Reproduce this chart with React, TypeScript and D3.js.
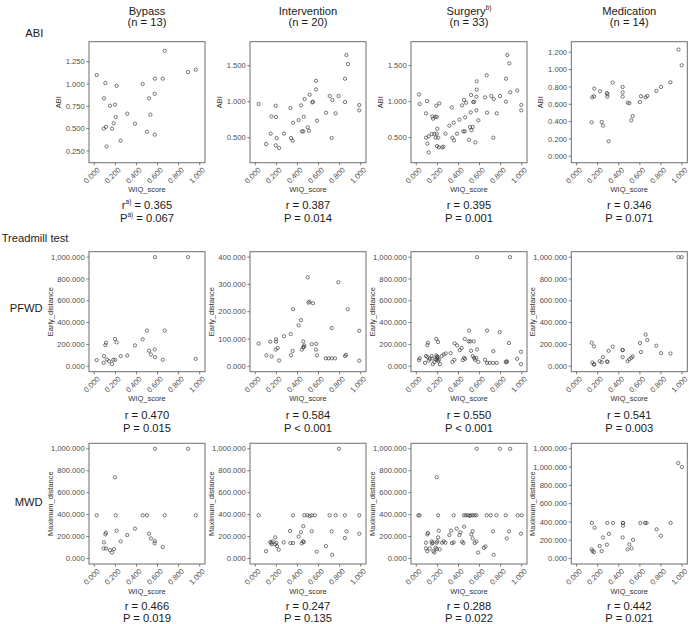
import React from "react";
import * as d3 from "d3";

const W = 689;
const H = 624;

// ---------- categories / labels ----------
const groups = ["Bypass", "Intervention", "Surgery", "Medication"];
const groupSup = ["", "", "b)", ""];
const groupN = ["(n = 13)", "(n = 20)", "(n = 33)", "(n = 14)"];
const rowLabels = ["ABI", "PFWD", "MWD"];
const yTitles = ["ABI", "Early_distance", "Maximum_distance"];
const xTitle = "WIQ_score";
const xTicks = [0, 0.2, 0.4, 0.6, 0.8, 1.0];
const rValues = [
  ["0.365", "0.387", "0.395", "0.346"],
  ["0.470", "0.584", "0.550", "0.541"],
  ["0.466", "0.247", "0.288", "0.442"],
];
const pValues = [
  ["= 0.067", "= 0.014", "= 0.001", "= 0.071"],
  ["= 0.015", "< 0.001", "< 0.001", "= 0.003"],
  ["= 0.019", "= 0.135", "= 0.022", "= 0.021"],
];

// ---------- y axis domains & ticks ----------
const yDomainABI = [
  [0.119, 1.474],
  [0.153, 1.833],
  [0.153, 1.833],
  [-0.074, 1.322],
];
const yTicksABI = [
  [0.25, 0.5, 0.75, 1.0, 1.25],
  [0.5, 1.0, 1.5],
  [0.5, 1.0, 1.5],
  [0, 0.2, 0.4, 0.6, 0.8, 1.0, 1.2],
];
const yDomainPFWD = [
  [-50, 1050],
  [-20, 420],
  [-50, 1050],
  [-50, 1050],
];
const yTicksPFWD = [
  [0, 200, 400, 600, 800, 1000],
  [0, 100, 200, 300, 400],
  [0, 200, 400, 600, 800, 1000],
  [0, 200, 400, 600, 800, 1000],
];
const yDomainMWD = [
  [-50, 1050],
  [-50, 1050],
  [-50, 1050],
  [-60, 1260],
];
const yTicksMWD = [
  [0, 200, 400, 600, 800, 1000],
  [0, 200, 400, 600, 800, 1000],
  [0, 200, 400, 600, 800, 1000],
  [0, 200, 400, 600, 800, 1000, 1200],
];
// the medication MWD axis prints its top tick as shown in the source
const medMWDTickLabels = ["0.000", "200.000", "400.000", "600.000", "800.000", "1,000.000", "1,000.000"];

// ---------- series: [WIQ_score, value] ----------
const bypassABI = [
  [0.023, 1.10], [0.105, 1.01], [0.212, 0.98], [0.092, 0.84], [0.149, 0.757], [0.197, 0.77],
  [0.203, 0.63], [0.184, 0.56], [0.168, 0.50], [0.089, 0.50], [0.111, 0.52], [0.117, 0.30],
  [0.25, 0.366], [0.313, 0.668], [0.386, 0.556], [0.459, 1.0], [0.519, 0.84], [0.573, 0.89],
  [0.5, 0.466], [0.532, 0.657], [0.573, 0.433], [0.576, 1.06], [0.668, 1.373], [0.649, 1.06],
  [0.89, 1.134], [0.962, 1.16],
];
const interventionABI = [
  [0.032, 0.968], [0.194, 0.944], [0.153, 0.796], [0.197, 0.787], [0.146, 0.556], [0.203, 0.495],
  [0.103, 0.412], [0.194, 0.394], [0.226, 0.356], [0.273, 0.556], [0.333, 0.912], [0.339, 0.495],
  [0.355, 0.458], [0.358, 0.708], [0.411, 0.745], [0.434, 0.949], [0.459, 0.792], [0.468, 1.037],
  [0.443, 0.588], [0.455, 0.588], [0.497, 0.643], [0.509, 0.597], [0.516, 1.097], [0.541, 0.99],
  [0.547, 1.0], [0.576, 1.29], [0.576, 1.171], [0.585, 0.736], [0.671, 0.847], [0.706, 1.079],
  [0.731, 1.023], [0.724, 0.495], [0.762, 0.838], [0.79, 1.079], [0.851, 0.995], [0.851, 1.319],
  [0.864, 1.648], [0.879, 1.523], [0.986, 0.954], [0.986, 0.88],
];
const surgeryABI = [
  [0.026, 1.10], [0.032, 0.968], [0.102, 1.009], [0.092, 0.838], [0.092, 0.5], [0.105, 0.417],
  [0.118, 0.296], [0.118, 0.519], [0.146, 0.551], [0.153, 0.796], [0.159, 0.764], [0.181, 0.79],
  [0.194, 0.787], [0.172, 0.551], [0.184, 0.5], [0.194, 0.556], [0.197, 0.384], [0.213, 0.366],
  [0.219, 0.977], [0.2, 0.625], [0.209, 0.5], [0.19, 0.944], [0.247, 0.366], [0.257, 0.375],
  [0.276, 0.556], [0.314, 0.667], [0.336, 0.921], [0.355, 0.708], [0.342, 0.5], [0.358, 0.463],
  [0.387, 0.556], [0.409, 0.75], [0.434, 0.949], [0.453, 1.023], [0.463, 0.782], [0.447, 0.588],
  [0.46, 0.588], [0.472, 0.986], [0.5, 0.472], [0.51, 0.648], [0.516, 0.852], [0.52, 1.093],
  [0.523, 0.602], [0.535, 0.648], [0.54, 0.995], [0.55, 1.0], [0.561, 0.435], [0.57, 0.88],
  [0.573, 1.282], [0.573, 1.167], [0.57, 1.069], [0.589, 0.741], [0.652, 1.06], [0.671, 0.847],
  [0.668, 1.366], [0.712, 1.079], [0.735, 1.037], [0.731, 0.5], [0.763, 0.838], [0.794, 1.079],
  [0.851, 1.0], [0.851, 1.319], [0.863, 1.648], [0.882, 1.532], [0.891, 1.13], [0.958, 1.157],
  [0.996, 0.954], [0.996, 0.88],
];
const medicationABI = [
  [0.143, 0.392], [0.149, 0.681], [0.165, 0.692], [0.168, 0.781], [0.222, 0.75], [0.238, 0.396],
  [0.25, 0.354], [0.288, 0.731], [0.294, 0.715], [0.291, 0.688], [0.304, 0.173], [0.342, 0.85],
  [0.437, 0.8], [0.437, 0.738], [0.437, 0.688], [0.484, 0.619], [0.5, 0.612], [0.519, 0.415],
  [0.532, 0.465], [0.601, 0.627], [0.611, 0.692], [0.655, 0.681], [0.671, 0.696], [0.756, 0.754],
  [0.801, 0.8], [0.89, 0.854], [0.966, 1.231], [0.997, 1.05],
];

const bypassPFWD = [
  [0.023, 56], [0.089, 31], [0.092, 93], [0.105, 194], [0.111, 216], [0.12, 62], [0.14, 46],
  [0.168, 19], [0.18, 59], [0.2, 59], [0.197, 250], [0.212, 219], [0.25, 93], [0.313, 99],
  [0.386, 191], [0.459, 247], [0.5, 327], [0.519, 142], [0.573, 154], [0.537, 108], [0.576, 83],
  [0.576, 1000], [0.668, 327], [0.649, 59], [0.89, 1000], [0.962, 68],
];
const interventionPFWD = [
  [0.032, 83], [0.105, 40], [0.155, 36], [0.143, 90], [0.197, 99], [0.197, 90], [0.194, 61],
  [0.213, 67], [0.226, 21], [0.273, 110], [0.336, 118], [0.339, 40], [0.355, 56], [0.358, 209],
  [0.411, 150], [0.433, 169], [0.44, 61], [0.455, 91], [0.46, 71], [0.465, 76], [0.455, 69],
  [0.497, 326], [0.506, 233], [0.513, 237], [0.547, 231], [0.535, 81], [0.579, 82], [0.576, 61],
  [0.585, 40], [0.668, 29], [0.697, 29], [0.724, 29], [0.756, 29], [0.724, 140], [0.787, 308],
  [0.851, 37], [0.86, 42], [0.876, 209], [0.986, 130], [0.986, 20],
];
const surgeryPFWD = [
  [0.026, 56], [0.032, 74], [0.083, 31], [0.092, 93], [0.105, 86], [0.105, 194], [0.111, 216],
  [0.118, 52], [0.127, 68], [0.149, 71], [0.146, 93], [0.156, 19], [0.172, 37], [0.184, 62],
  [0.194, 59], [0.197, 83], [0.19, 99], [0.2, 74], [0.209, 49], [0.2, 90], [0.215, 62],
  [0.19, 250], [0.207, 222], [0.225, 19], [0.241, 93], [0.26, 108], [0.279, 117], [0.326, 120],
  [0.342, 40], [0.361, 59], [0.364, 210], [0.387, 191], [0.412, 148], [0.431, 167], [0.44, 56],
  [0.453, 77], [0.463, 68], [0.46, 250], [0.5, 327], [0.497, 228], [0.513, 228], [0.545, 228],
  [0.52, 142], [0.535, 93], [0.548, 77], [0.557, 59], [0.57, 77], [0.576, 154], [0.576, 1000],
  [0.589, 40], [0.652, 59], [0.671, 327], [0.671, 31], [0.696, 31], [0.728, 31], [0.763, 31],
  [0.731, 139], [0.791, 312], [0.848, 37], [0.854, 43], [0.861, 43], [0.879, 213], [0.889, 1000],
  [0.956, 68], [0.993, 133], [0.993, 19],
];
const medicationPFWD = [
  [0.143, 216], [0.165, 182], [0.149, 34], [0.165, 15], [0.168, 20], [0.219, 46], [0.238, 37],
  [0.25, 83], [0.288, 43], [0.294, 40], [0.304, 142], [0.342, 179], [0.437, 148], [0.437, 83],
  [0.437, 148], [0.484, 46], [0.5, 62], [0.519, 77], [0.532, 90], [0.601, 213], [0.611, 130],
  [0.655, 290], [0.671, 241], [0.756, 188], [0.801, 120], [0.89, 117], [0.966, 1000], [0.997, 1000],
];

const bypassMWD = [
  [0.023, 394], [0.089, 92], [0.111, 92], [0.092, 147], [0.105, 220], [0.111, 235], [0.149, 76],
  [0.168, 55], [0.187, 86], [0.197, 740], [0.203, 394], [0.212, 254], [0.25, 156], [0.313, 214],
  [0.386, 272], [0.459, 394], [0.5, 394], [0.519, 226], [0.537, 183], [0.573, 159], [0.573, 138],
  [0.576, 1000], [0.668, 394], [0.649, 104], [0.89, 1000], [0.962, 394],
];
const interventionMWD = [
  [0.032, 394], [0.102, 67], [0.143, 150], [0.152, 144], [0.165, 156], [0.155, 130], [0.19, 193],
  [0.19, 128], [0.2, 144], [0.206, 113], [0.222, 80], [0.27, 147], [0.333, 141], [0.33, 251],
  [0.358, 394], [0.358, 141], [0.411, 199], [0.433, 239], [0.44, 138], [0.452, 156], [0.46, 150],
  [0.455, 294], [0.465, 394], [0.494, 394], [0.516, 388], [0.535, 394], [0.566, 394], [0.535, 248],
  [0.582, 61], [0.67, 113], [0.705, 394], [0.762, 394], [0.724, 248], [0.73, 34], [0.794, 1000],
  [0.85, 394], [0.866, 248], [0.85, 186], [0.986, 394], [0.986, 226],
];
const surgeryMWD = [
  [0.02, 394], [0.03, 394], [0.092, 144], [0.092, 92], [0.105, 220], [0.111, 232], [0.105, 67],
  [0.127, 92], [0.146, 156], [0.156, 144], [0.149, 135], [0.162, 67], [0.172, 55], [0.184, 98],
  [0.194, 86], [0.194, 144], [0.2, 156], [0.207, 193], [0.194, 740], [0.207, 394], [0.213, 254],
  [0.222, 83], [0.244, 144], [0.26, 156], [0.276, 144], [0.314, 214], [0.33, 254], [0.339, 141],
  [0.355, 147], [0.355, 394], [0.383, 272], [0.409, 214], [0.418, 239], [0.434, 153], [0.447, 141],
  [0.453, 290], [0.453, 394], [0.469, 394], [0.491, 394], [0.507, 388], [0.516, 394], [0.535, 394],
  [0.554, 394], [0.57, 394], [0.522, 220], [0.535, 248], [0.535, 183], [0.554, 141], [0.57, 156],
  [0.573, 1000], [0.586, 55], [0.64, 98], [0.656, 110], [0.668, 394], [0.706, 394], [0.76, 394],
  [0.728, 248], [0.734, 34], [0.792, 1000], [0.848, 394], [0.858, 183], [0.88, 248], [0.89, 1000],
  [0.962, 394], [1.0, 394], [0.993, 226],
];
const medicationMWD = [
  [0.146, 389], [0.171, 337], [0.143, 100], [0.152, 81], [0.165, 70], [0.219, 137], [0.238, 81],
  [0.25, 230], [0.292, 389], [0.288, 152], [0.307, 270], [0.345, 389], [0.44, 389], [0.44, 359],
  [0.44, 389], [0.437, 230], [0.484, 100], [0.5, 156], [0.535, 204], [0.522, 111], [0.605, 389],
  [0.65, 389], [0.664, 389], [0.759, 319], [0.8, 248], [0.892, 389], [0.964, 1044], [0.999, 1000],
];

const seriesABI = [bypassABI, interventionABI, surgeryABI, medicationABI];
const seriesPFWD = [bypassPFWD, interventionPFWD, surgeryPFWD, medicationPFWD];
const seriesMWD = [bypassMWD, interventionMWD, surgeryMWD, medicationMWD];

// ---------- layout ----------
const FONT = "'Liberation Sans', Arial, Helvetica, sans-serif";
const colLeft = [89, 250, 411, 571.3];
const panelW = 116;
const rowTop = [41.7, 251.7, 443.3];
const rowH = [121, 120, 120.7];
const yTitleOffset = [28.5, 36.5, 36.5];
const rOffset = [46.3, 46.8, 46.2];
const pOffset = [59.6, 60.3, 57.5];

const fmt = d3.format(",.3f");

type Pt = number[];

function Panel(props: {
  left: number; top: number; h: number; pts: Pt[]; yDomain: number[]; yTicks: number[];
  yLabels?: string[]; yTitle: string; titleOff: number;
}) {
  const { left, top, h, pts, yDomain, yTicks, yLabels, yTitle, titleOff } = props;
  const x = d3.scaleLinear().domain([-0.05, 1.05]).range([left, left + panelW]);
  const y = d3.scaleLinear().domain(yDomain).range([top + h, top]);
  const bottom = top + h;
  const tickCol = "#5a5a5a";
  return (
    <g>
      <rect x={left} y={top} width={panelW} height={h} fill="#fff" stroke="#6e6e6e" strokeWidth={1} />
      {yTicks.map((t, i) => (
        <g key={"y" + i}>
          <line x1={left - 2.6} x2={left} y1={y(t)} y2={y(t)} stroke={tickCol} strokeWidth={0.8} />
          <text x={left - 4.2} y={y(t)} dy="0.35em" textAnchor="end" fontSize={7.6} fill="#4d4d4d" fontFamily={FONT}>
            {yLabels ? yLabels[i] : fmt(t)}
          </text>
        </g>
      ))}
      {xTicks.map((t, i) => (
        <g key={"x" + i}>
          <line x1={x(t)} x2={x(t)} y1={bottom} y2={bottom + 2.6} stroke={tickCol} strokeWidth={0.8} />
          <text
            transform={`translate(${x(t) + 2},${bottom + 4}) rotate(-45)`}
            dy="0.72em"
            textAnchor="end"
            fontSize={7.6}
            fill="#4d4d4d"
            fontFamily={FONT}
          >
            {fmt(t)}
          </text>
        </g>
      ))}
      <text x={left + panelW / 2} y={bottom + 29.5} textAnchor="middle" fontSize={7.5} fill="#333" fontFamily={FONT}>
        {xTitle}
      </text>
      <text
        transform={`translate(${left - titleOff},${top + h / 2}) rotate(-90)`}
        textAnchor="middle"
        fontSize={7.5}
        fill="#333"
        fontFamily={FONT}
      >
        {yTitle}
      </text>
      {pts.map((p, i) => (
        <circle key={i} cx={x(p[0])} cy={y(p[1])} r={1.65} fill="none" stroke="#333" strokeWidth={0.65} />
      ))}
    </g>
  );
}

export default function App() {
  const rows = [
    { series: seriesABI, domains: yDomainABI, ticks: yTicksABI },
    { series: seriesPFWD, domains: yDomainPFWD, ticks: yTicksPFWD },
    { series: seriesMWD, domains: yDomainMWD, ticks: yTicksMWD },
  ];
  const big = 11.2;
  return (
    <svg
      width={W}
      height={H}
      viewBox={`0 0 ${W} ${H}`}
      style={{ position: "absolute", left: 0, top: 0, background: "#fff" }}
      fontFamily={FONT}
    >
      <rect x={0} y={0} width={W} height={H} fill="#fff" />
      {groups.map((g, c) => {
        const cx = colLeft[c] + panelW / 2;
        return (
          <g key={"t" + c}>
            <text x={cx} y={15} textAnchor="middle" fontSize={big} fill="#1a1a1a">
              {g}
              {groupSup[c] ? (
                <tspan fontSize={6.5} dy={-5}>
                  {groupSup[c]}
                </tspan>
              ) : null}
            </text>
            <text x={cx} y={25.6} textAnchor="middle" fontSize={big} fill="#1a1a1a">
              {groupN[c]}
            </text>
          </g>
        );
      })}
      <text x={43.3} y={37.3} textAnchor="end" fontSize={big} fill="#1a1a1a">
        {rowLabels[0]}
      </text>
      <text x={1.7} y={242.3} textAnchor="start" fontSize={big} fill="#1a1a1a">
        Treadmill test
      </text>
      <text x={42.7} y={312.3} textAnchor="end" fontSize={big} fill="#1a1a1a">
        {rowLabels[1]}
      </text>
      <text x={42.7} y={505.7} textAnchor="end" fontSize={big} fill="#1a1a1a">
        {rowLabels[2]}
      </text>
      {rows.map((row, r) =>
        groups.map((g, c) => {
          const bottom = rowTop[r] + rowH[r];
          const cx = colLeft[c] + panelW / 2;
          const sup = r === 0 && c === 0;
          return (
            <g key={r + "-" + c}>
              <Panel
                left={colLeft[c]}
                top={rowTop[r]}
                h={rowH[r]}
                pts={row.series[c]}
                yDomain={row.domains[c]}
                yTicks={row.ticks[c]}
                yLabels={r === 2 && c === 3 ? medMWDTickLabels : undefined}
                yTitle={yTitles[r]}
                titleOff={yTitleOffset[r]}
              />
              <text x={cx} y={bottom + rOffset[r]} textAnchor="middle" fontSize={big} fill="#1a1a1a">
                {sup ? (
                  <>
                    r<tspan fontSize={6.5} dy={-5}>a)</tspan>
                    <tspan dy={5}>{" = " + rValues[r][c]}</tspan>
                  </>
                ) : (
                  "r = " + rValues[r][c]
                )}
              </text>
              <text x={cx} y={bottom + pOffset[r]} textAnchor="middle" fontSize={big} fill="#1a1a1a">
                {sup ? (
                  <>
                    P<tspan fontSize={6.5} dy={-5}>a)</tspan>
                    <tspan dy={5}>{" " + pValues[r][c]}</tspan>
                  </>
                ) : (
                  "P " + pValues[r][c]
                )}
              </text>
            </g>
          );
        })
      )}
    </svg>
  );
}
